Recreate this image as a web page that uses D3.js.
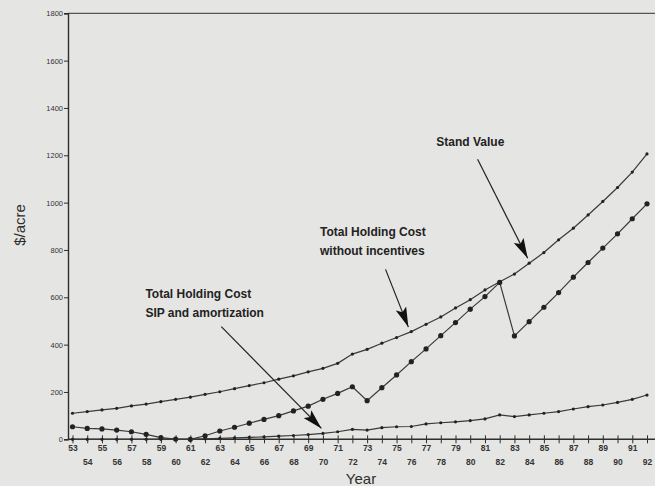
<!DOCTYPE html>
<html lang="en">
<head>
<meta charset="UTF-8">
<title>Holding cost vs stand value</title>
<script src="https://d3js.org/d3.v7.min.js"></script>
<style>
  body { margin: 0; background: #e5e5e3; }
  svg { display: block; font-family: "Liberation Sans", Arial, sans-serif; }
</style>
</head>
<body>
<div id="chart"></div>
<script>
// years 1953..1992 (two digit)
const years = d3.range(53, 93);

// Stand value / holding cost without incentives (upper curve)
const standValue = [110, 117, 124, 131, 141, 149, 159, 169, 178, 190,
  201, 214, 227, 239, 254, 268, 285, 300, 321, 360,
  380, 406, 430, 455, 486, 517, 555, 590, 631, 666,
  698, 744, 789, 843, 892, 948, 1005, 1064, 1129, 1206];

// Total holding cost, SIP and amortization (saw-tooth curve)
const holdingSIP = [53, 46, 44, 39, 32, 21, 7, 1, 0, 15,
  35, 51, 68, 84, 100, 120, 140, 169, 194, 222,
  163, 218, 272, 328, 382, 438, 493, 550, 603, 663,
  437, 497, 558, 620, 685, 747, 808, 868, 932, 995];

// lowest curve
const lowCurve = [0, 0, 0, 0, 0, 0, 0, 0, 0, 2,
  4, 6, 8, 10, 13, 16, 20, 25, 32, 42,
  39, 49, 53, 54, 65, 70, 74, 79, 86, 103,
  96, 103, 110, 117, 128, 138, 145, 156, 169, 187];

const yTicks = d3.range(0, 1801, 200);

// annotations: [year, value] for text and arrows
const notes = [
  { lines: ["Stand Value"], at: [77.7, 1239], from: [80.5, 1183], to: [83.9, 765] },
  { lines: ["Total Holding Cost", "without incentives"], at: [69.8, 858], from: [74.25, 718], to: [75.8, 474] },
  { lines: ["Total Holding Cost", "SIP and amortization"], at: [57.95, 598], from: [63.1, 476], to: [69.9, 46] }
];

const W = 655, H = 486;
const ink = "#2e2e2e";

const x = d3.scaleLinear().domain([53, 92]).range([72.5, 647]);
const y = d3.scaleLinear().domain([0, 1800]).range([439.3, 13.3]);

const svg = d3.select("#chart").append("svg")
  .attr("width", W).attr("height", H);

svg.append("rect").attr("width", W).attr("height", H).attr("fill", "#e5e5e3");

svg.append("defs").append("marker")
  .attr("id", "head")
  .attr("viewBox", "0 0 20 11")
  .attr("refX", 20).attr("refY", 5.5)
  .attr("markerWidth", 20).attr("markerHeight", 11)
  .attr("markerUnits", "userSpaceOnUse")
  .attr("orient", "auto")
  .append("path").attr("d", "M0,0 L20,5.5 L0,11 L4,5.5 Z").attr("fill", "#111");

// top frame line
svg.append("line")
  .attr("x1", 68).attr("x2", W).attr("y1", y(1800)).attr("y2", y(1800))
  .attr("stroke", "#555").attr("stroke-width", 1.2);

// y axis
const yAxis = svg.append("g")
  .attr("transform", "translate(68,0)")
  .call(d3.axisLeft(y).tickValues(yTicks).tickSize(4).tickPadding(1).tickFormat(d3.format("d")));
yAxis.select(".domain").attr("stroke", ink).attr("stroke-width", 1.4);
yAxis.selectAll(".tick line").attr("stroke", ink);
yAxis.selectAll("text").attr("font-size", 7.5).attr("fill", "#333")
  .attr("font-family", "'Liberation Sans Narrow', 'Liberation Sans', Arial, sans-serif");

// x axis
const xAxis = svg.append("g")
  .attr("transform", `translate(0,${y(0)})`)
  .call(d3.axisBottom(x).tickValues(years).tickSize(4).tickFormat(d3.format("d")));
xAxis.select(".domain").attr("d", `M68,0H${W}`).attr("stroke", ink).attr("stroke-width", 1.4);
xAxis.selectAll(".tick line").attr("y1", -4).attr("y2", 4).attr("stroke", ink);
xAxis.selectAll("text")
  .attr("y", d => d % 2 ? 6 : 20)
  .attr("font-size", 8.5).attr("font-weight", "bold").attr("fill", "#333");

svg.append("text")
  .attr("x", 361).attr("y", 484)
  .attr("text-anchor", "middle").attr("font-size", 15).attr("fill", ink)
  .text("Year");

svg.append("text")
  .attr("transform", "translate(25,225) rotate(-90)")
  .attr("text-anchor", "middle").attr("font-size", 15).attr("fill", ink)
  .text("$/acre");

// series
const series = [
  { vals: standValue, r: 1.6 },
  { vals: holdingSIP, r: 2.6 },
  { vals: lowCurve, r: 1.6 }
];
const line = d3.line().x((d, i) => x(years[i])).y(d => y(d));

series.forEach(s => {
  svg.append("path")
    .attr("d", line(s.vals))
    .attr("fill", "none").attr("stroke", "#3a3a3a").attr("stroke-width", 1.2);
  svg.append("g").selectAll("circle")
    .data(s.vals).join("circle")
    .attr("cx", (d, i) => x(years[i])).attr("cy", d => y(d))
    .attr("r", s.r).attr("fill", "#222");
});

// annotations
notes.forEach(n => {
  svg.append("line")
    .attr("x1", x(n.from[0])).attr("y1", y(n.from[1]))
    .attr("x2", x(n.to[0])).attr("y2", y(n.to[1]))
    .attr("stroke", "#222").attr("stroke-width", 1.2)
    .attr("marker-end", "url(#head)");
  const t = svg.append("text")
    .attr("x", x(n.at[0])).attr("y", y(n.at[1]))
    .attr("font-size", 12).attr("fill", "#222").attr("font-weight", 600);
  n.lines.forEach((s, i) => {
    t.append("tspan").attr("x", x(n.at[0])).attr("dy", i ? 19 : 0).text(s);
  });
});
</script>
</body>
</html>
